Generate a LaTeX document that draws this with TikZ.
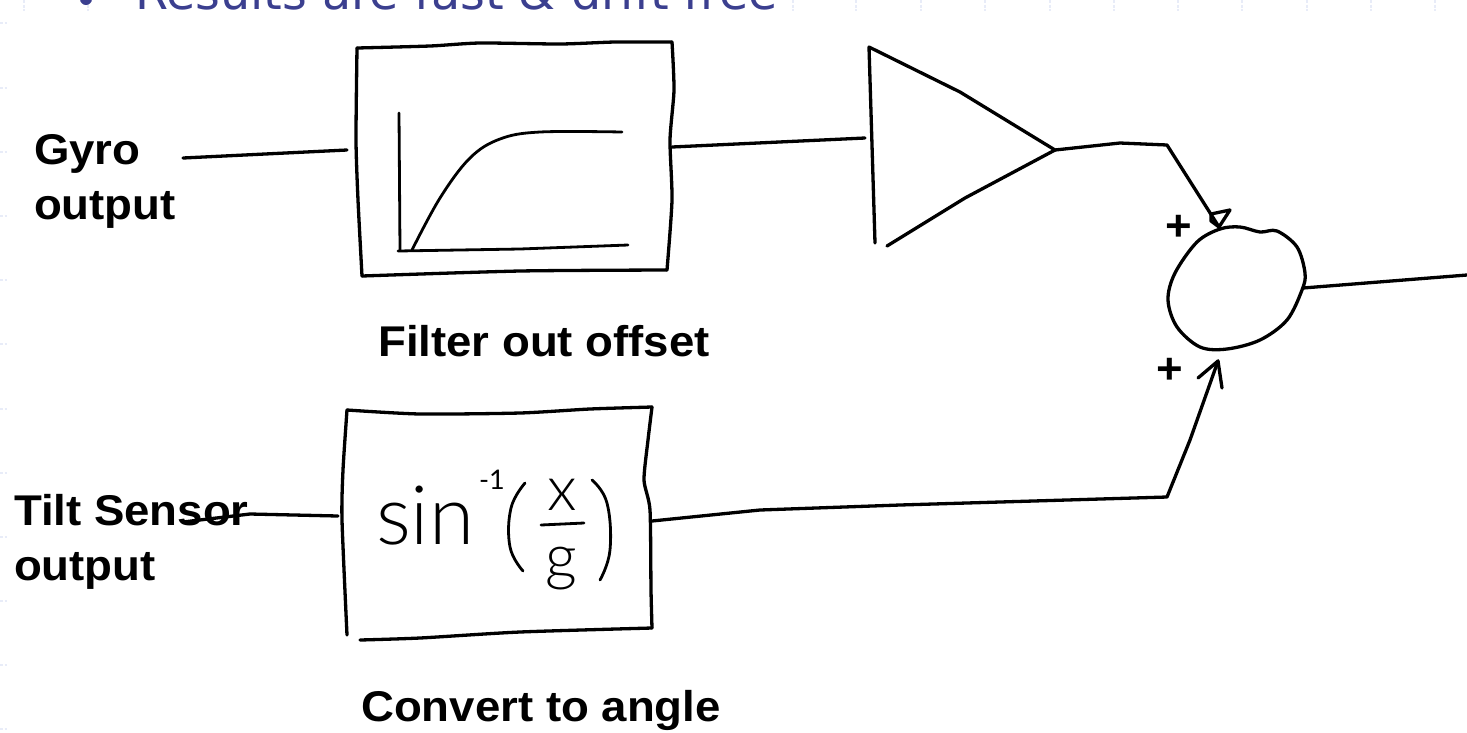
\documentclass[tikz,border=0pt]{standalone}
\usepackage{fontspec}
\setmainfont{Liberation Sans}[FakeStretch=1.06]
\newfontfamily\headfont{DejaVu Sans}
\newfontfamily\handfont{Lato Light}
\newfontfamily\handreg{Lato}
\usetikzlibrary{calc}
\definecolor{headblue}{HTML}{3B3F8F}
\definecolor{faintblue}{HTML}{E8ECF8}
\tikzset{
  x=1pt,y=-1pt,
  ink/.style={draw=black,line width=3.3pt,line cap=round,line join=round},
  thinink/.style={draw=black,line width=2.8pt,line cap=round,line join=round},
  lbl/.style={font=\fontsize{43}{48}\selectfont\bfseries,text=black,inner sep=0pt,outer sep=0pt},
  hand/.style={text=black,inner sep=0pt,outer sep=0pt},
  tick/.style={draw=faintblue,line width=1.2pt,dash pattern=on 3pt off 1.5pt}
}
\begin{document}
\begin{tikzpicture}
\useasboundingbox (0,0) rectangle (1467,732);
\clip (0,0) rectangle (1467,732);
% faint slide marks
\foreach \y in {23,88,152,216,280,344,409,473,537,601,665,729}
  \draw[tick] (0,\y) -- (7,\y);
\foreach \x in {24,88,793,856,921,985,1050,1114,1178,1242,1307,1371,1435}
  \draw[tick] (\x,0) -- (\x,11);
% clipped heading
\node[anchor=base west,inner sep=0pt,text=headblue,font=\headfont\fontsize{47.6}{54}\selectfont] (head) at (135,9) {Results are fast \& drift free};
\fill[headblue] (86,-1) circle (6);
% ports
\coordinate (gyroin) at (183,158);
\coordinate (f_in) at (347,150);
\coordinate (f_out) at (672,147);
\coordinate (t_in) at (865,138);
\coordinate (t_out) at (1055,150);
\coordinate (s_a) at (1219,227);
\coordinate (s_b) at (1218,361);
\coordinate (s_out) at (1303,288);
\coordinate (rightend) at (1467,275);
\coordinate (tiltin) at (183,522);
\coordinate (c_in) at (338,516);
\coordinate (c_out) at (652,521);
% filter box
\draw[ink] plot[smooth,tension=.4] coordinates {(357,48)(430,46)(480,43)(560,44)(615,42)(672,42)};
\draw[ink] plot[smooth,tension=.4] coordinates {(672,42)(674,90)(670,140)(672,200)(667,270)};
\draw[ink] plot[smooth,tension=.4] coordinates {(667,270)(520,271)(362,276)};
\draw[ink] plot[smooth,tension=.4] coordinates {(362,276)(358,200)(356,140)(357,48)};
% filter response
\draw[thinink] (399,113) -- (400,250);
\draw[thinink] (398,251) -- (520,249) -- (628,245);
\draw[thinink] plot[smooth,tension=.6] coordinates {(412,250)(440,198)(470,158)(500,139)(540,132)(622,132)};
% amplifier
\draw[ink] (875,243) -- (869,47) -- (960,92) -- (1055,150) -- (965,198) -- (887,246);
% summing junction
\draw[ink] plot[smooth cycle,tension=.55] coordinates {(1220,229)(1240,227)(1260,232)(1277,231)(1297,247)(1305,273)(1302,290)(1287,320)(1260,340)(1227,349)(1200,347)(1177,327)(1168,300)(1175,273)(1197,242)};
% input arrow heads
\draw[ink] (s_a) -- (1211,221) -- (1211,214) -- (1230,210) -- cycle;
\draw[ink] (1198,378) -- (s_b) -- (1222,388);
% angle box
\draw[ink] plot[smooth,tension=.4] coordinates {(347,410)(420,414)(520,413)(590,409)(652,407)};
\draw[ink] plot[smooth,tension=.4] coordinates {(652,407)(648,440)(644,480)(650,510)(651,590)(652,628)};
\draw[ink] plot[smooth,tension=.4] coordinates {(652,628)(520,632)(420,638)(360,640)};
\draw[ink] plot[smooth,tension=.4] coordinates {(347,410)(343,470)(342,520)(347,635)};
% connectors
\draw[ink] (gyroin) -- (f_in);
\draw[ink] (f_out) -- (t_in);
\draw[ink] (t_out) -- (1120,143) -- (1167,145) -- (s_a);
\draw[ink] (s_out) -- (rightend);
\draw[ink] (tiltin) -- (250,514) -- (c_in);
\draw[ink] (c_out) -- (760,510) -- (900,505) -- (1167,497) -- (1190,440) -- (s_b);
% labels
\node[lbl,anchor=base west] (gyro) at (34,164) {Gyro};
\node[lbl,anchor=base west] (gyro2) at (34,219) {output};
\node[lbl,anchor=base west] (tilt) at (14,525) {Tilt Sensor};
\node[lbl,anchor=base west] (tilt2) at (14,580) {output};
\node[lbl,anchor=base] (filt) at (544,356) {Filter out offset};
\node[lbl,anchor=base] (conv) at (541,721) {Convert to angle};
\node[lbl,anchor=center] (plus1) at (1179,228) {+};
\node[lbl,anchor=center] (plus2) at (1170,371) {+};
% handwritten formula
\node[hand,anchor=base west,font=\handfont\fontsize{82}{84}\selectfont] (sinw) at (376,544) {sin};
\node[hand,anchor=base west,font=\handreg\fontsize{27}{30}\selectfont] (exp) at (479,489) {-1};
\node[hand,anchor=base,font=\handfont\fontsize{63}{66}\selectfont] (xvar) at (562,510) {x};
\node[hand,anchor=base,font=\handfont\fontsize{62}{66}\selectfont] (gvar) at (561,578) {g};
\draw[thinink] (541,525) -- (584,523);
\draw[thinink] plot[smooth,tension=.7] coordinates {(525,483)(511,508)(510,547)(523,571)};
\draw[thinink] plot[smooth,tension=.7] coordinates {(592,480)(607,503)(610,550)(600,580)};
\end{tikzpicture}
\end{document}
